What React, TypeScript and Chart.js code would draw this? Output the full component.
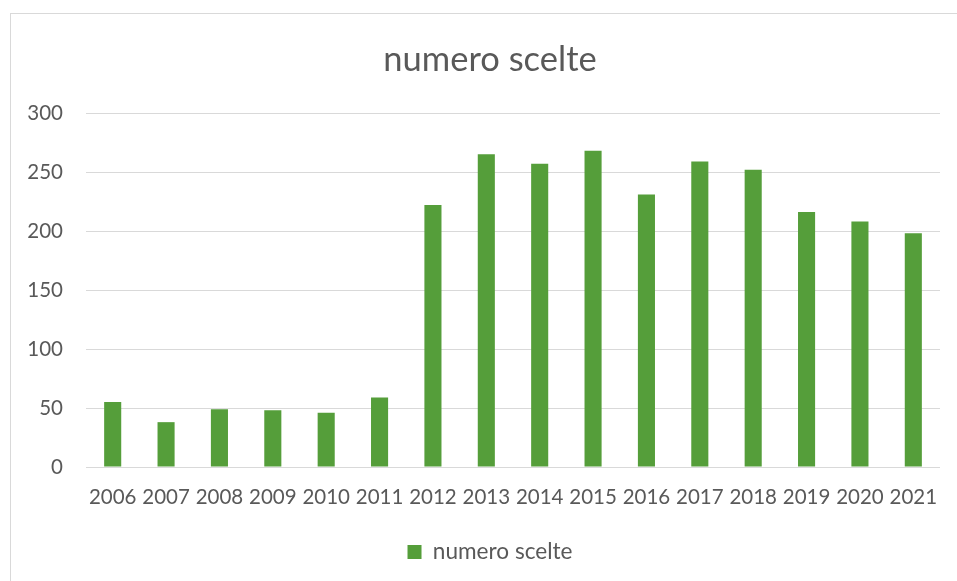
import React, { useEffect, useRef } from "react";
import { Chart, registerables } from "chart.js";

Chart.register(...registerables);

const categories = ["2006", "2007", "2008", "2009", "2010", "2011", "2012", "2013", "2014", "2015", "2016", "2017", "2018", "2019", "2020", "2021"];
const seriesName = "numero scelte";
const values = [55, 38, 49, 48, 46, 59, 222, 265, 257, 268, 231, 259, 252, 216, 208, 198];
const yTicks = [0, 50, 100, 150, 200, 250, 300];

const FONT = "Lato";
const TEXT = "#595959";
const GRID = "#d9d9d9";
const BAR = "#559E3A";

export default function App() {
  const ref = useRef<HTMLCanvasElement | null>(null);
  useEffect(() => {
    if (!ref.current) return;
    const chart = new Chart(ref.current, {
      type: "bar",
      data: {
        labels: categories,
        datasets: [
          {
            label: seriesName,
            data: values,
            backgroundColor: BAR,
            borderWidth: 0,
            categoryPercentage: 1,
            barPercentage: 0.32,
            yAxisID: "y",
          },
        ],
      },
      options: {
        responsive: false,
        animation: false,
        layout: { padding: { left: 0, right: 0, top: 0, bottom: 6.7 } },
        plugins: {
          title: {
            display: true,
            text: seriesName,
            color: TEXT,
            font: { family: FONT, size: 34.5, weight: "normal" },
            padding: { top: 25.3, bottom: 32.3 },
          },
          legend: {
            position: "bottom",
            labels: {
              color: TEXT,
              font: { family: FONT, size: 22.6 },
              boxWidth: 14,
              boxHeight: 14,
              padding: 10,
            },
          },
          tooltip: { enabled: false },
        },
        scales: {
          x: {
            grid: { display: false, drawTicks: false },
            border: { display: false },
            ticks: {
              color: TEXT,
              font: { family: FONT, size: 20.5 },
              padding: 18,
              maxRotation: 0,
              autoSkip: false,
            },
            afterFit: (s: any) => {
              s.height = 63.7;
            },
          },
          y: {
            min: 0,
            max: 300,
            afterBuildTicks: (s: any) => {
              s.ticks = yTicks.map((v) => ({ value: v }));
            },
            grid: { color: GRID, lineWidth: 1, drawTicks: false },
            border: { display: false },
            ticks: {
              color: TEXT,
              font: { family: FONT, size: 20.5 },
              padding: 23,
            },
            afterFit: (s: any) => {
              s.width = 75;
            },
          },
          yRight: {
            position: "right",
            display: true,
            grid: { display: false, drawTicks: false },
            border: { display: false },
            ticks: { display: false },
            afterFit: (s: any) => {
              s.width = 29;
            },
          },
        },
      },
    });
    return () => chart.destroy();
  }, []);

  return (
    <div
      style={{
        position: "fixed",
        left: 0,
        top: 0,
        width: 957,
        height: 581,
        overflow: "hidden",
        background: "#fff",
      }}
    >
      <div
        style={{
          position: "absolute",
          left: 10,
          top: 13,
          width: 980,
          height: 600,
          border: `1px solid ${GRID}`,
          boxSizing: "border-box",
          background: "#fff",
        }}
      >
        <canvas ref={ref} width={958} height={566} style={{ display: "block" }} />
      </div>
    </div>
  );
}
